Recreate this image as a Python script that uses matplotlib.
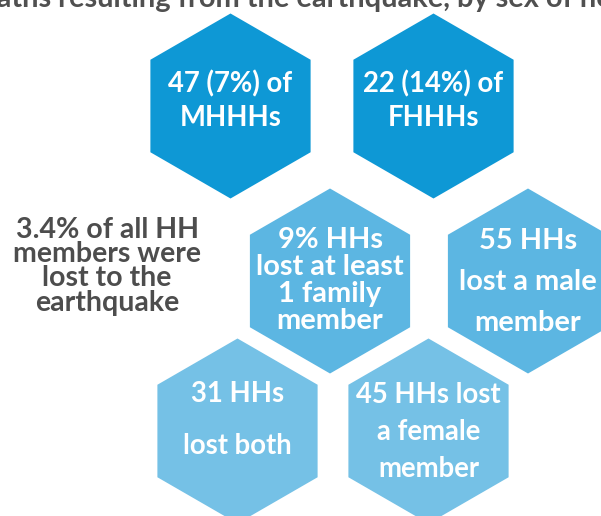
import matplotlib
matplotlib.use("Agg")
import matplotlib.pyplot as plt
from matplotlib.patches import RegularPolygon

plt.rcParams['font.family'] = ['Lato', 'DejaVu Sans']

# --- data (labels) ---
title = "Deaths resulting from the earthquake, by sex of household head"
side_note = ["3.4% of all HH", "members were", "lost to the", "earthquake"]
hex_labels = [
    ["47 (7%) of", "MHHHs"],
    ["22 (14%) of", "FHHHs"],
    ["9% HHs", "lost at least", "1 family", "member"],
    ["55 HHs", "lost a male", "member"],
    ["31 HHs", "lost both"],
    ["45 HHs lost", "a female", "member"],
]

# --- layout / style ---
centers = [(230.5, 106), (433.5, 106), (330, 281), (528, 281), (237.5, 431), (428.5, 431)]
colors = ["#0e98d5", "#0e98d5", "#5cb6e2", "#5cb6e2", "#75c1e6", "#75c1e6"]
radius = 92.5
font_px = [27.5, 27.5, 29, 29, 27.5, 27.5]
line_gap = [34, 34, 27, 41, 52, 37]
first_base = [-14, -14, -33, -32, -29, -28]

W, H = 601, 516
fig = plt.figure(figsize=(W / 100, H / 100), dpi=100)
ax = fig.add_axes([0, 0, 1, 1])
ax.set_xlim(0, W)
ax.set_ylim(H, 0)
ax.set_aspect('equal')
ax.axis('off')

px2pt = 72 / 100

for (cx, cy), col, lines, fpx, gap, fb in zip(centers, colors, hex_labels, font_px, line_gap, first_base):
    ax.add_patch(RegularPolygon((cx, cy), numVertices=6, radius=radius, orientation=0,
                                facecolor=col, edgecolor='none'))
    for i, ln in enumerate(lines):
        ax.text(cx, cy + fb + i * gap, ln, ha='center', va='baseline', color='white',
                fontsize=fpx * px2pt, fontweight='bold')

for i, ln in enumerate(side_note):
    ax.text(107, 238 + i * 24.2, ln, ha='center', va='baseline', color='#4d4d4d',
            fontsize=28.5 * px2pt, fontweight='bold')

ax.text(-41, 7, title, ha='left', va='baseline', color='#505050',
        fontsize=29 * px2pt, fontweight='bold')

fig.savefig('out.png', dpi=100)
